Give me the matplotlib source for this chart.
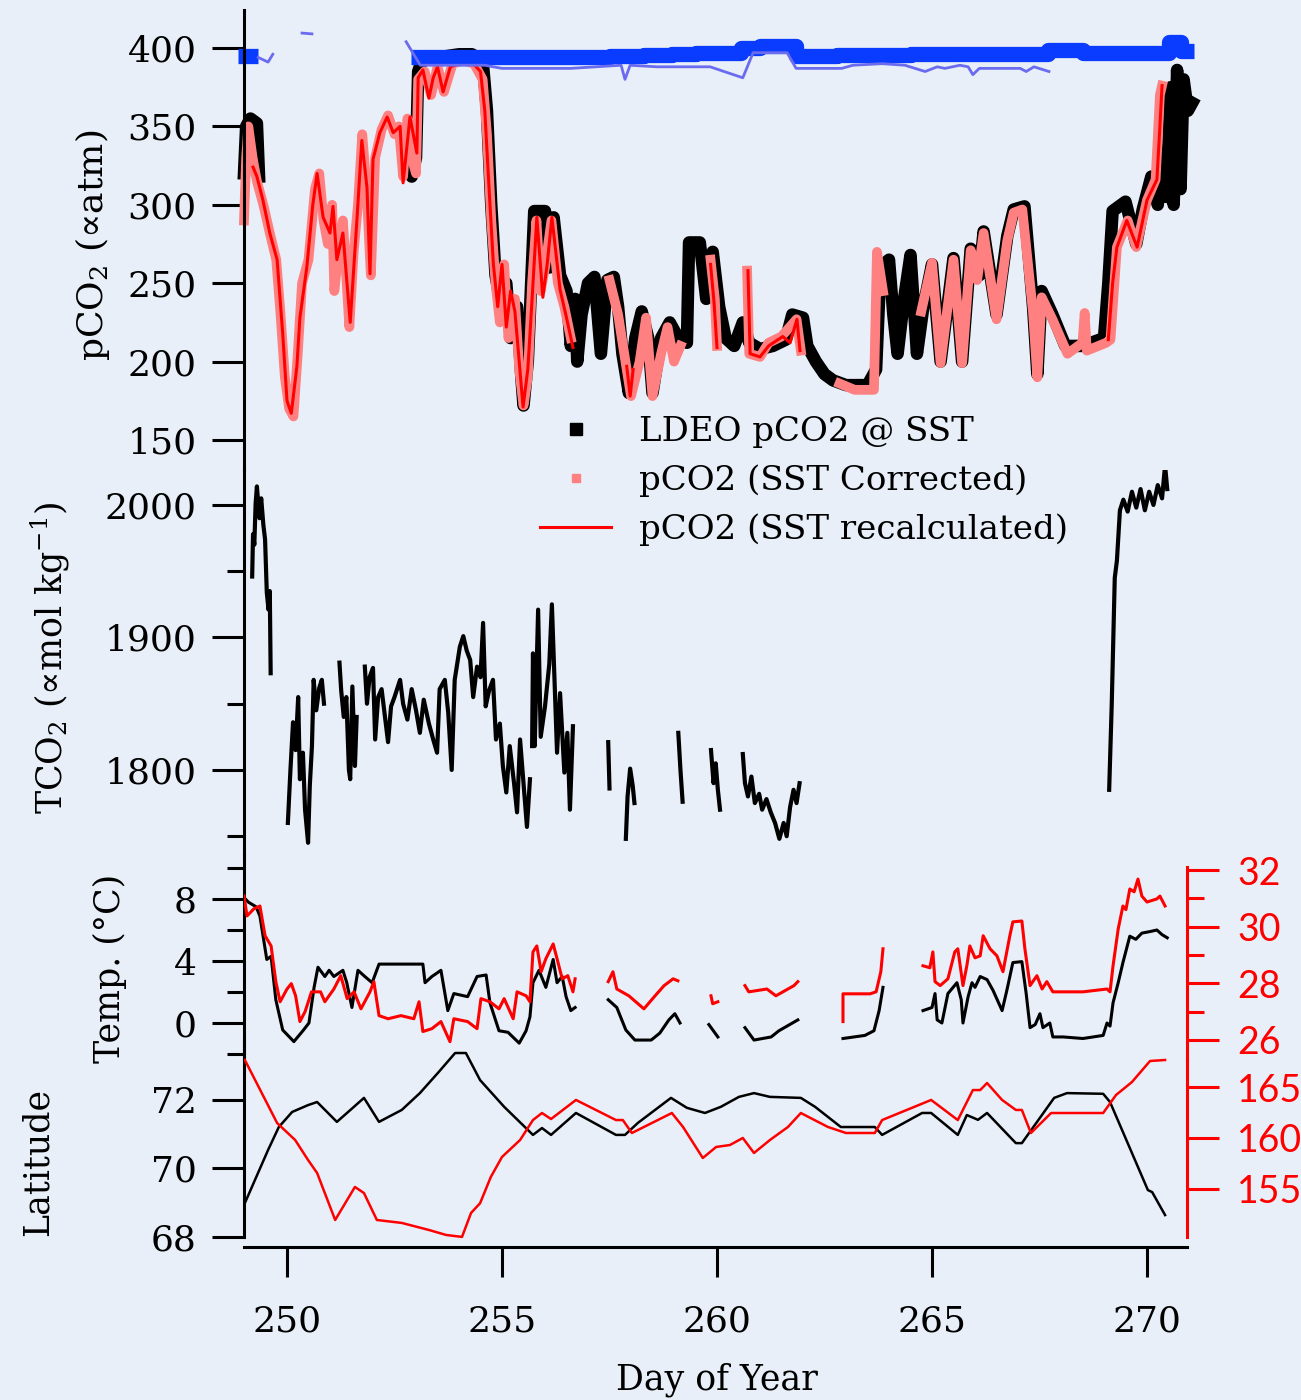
import numpy as np
import matplotlib.pyplot as plt
from matplotlib.lines import Line2D

nan = np.nan

# ---- pCO2 panel (day of year, uatm) ----
ldeo = [(249.0, 320), (249.05, 350), (249.15, 355), (249.3, 352), (249.35, 318), (nan, nan),
        (252.85, 340), (252.9, 318), (253.0, 330), (253.05, 385), (253.15, 393), (253.5, 394),
        (254.0, 396), (254.3, 396), (254.55, 392), (254.65, 360), (254.75, 300), (254.85, 255),
        (254.95, 240), (255.1, 250), (255.2, 215), (255.35, 235), (255.45, 190), (255.5, 172),
        (255.6, 200), (255.75, 296), (256.0, 296), (256.1, 260), (256.2, 292), (256.35, 255),
        (256.5, 245), (256.6, 210), (256.7, 240), (256.75, 200), (256.85, 230), (257.0, 250),
        (257.15, 254), (257.3, 205), (257.45, 252), (257.6, 254), (257.7, 235), (257.8, 205),
        (257.95, 180), (258.1, 215), (258.25, 232), (258.4, 215), (258.5, 180), (258.7, 215),
        (258.9, 225), (259.1, 215), (259.3, 212), (259.35, 276), (259.6, 276), (259.75, 240),
        (259.9, 270), (260.05, 235), (260.2, 215), (260.4, 210), (260.6, 225), (260.75, 212),
        (261.0, 208), (261.3, 210), (261.6, 214), (261.75, 230), (262.0, 228), (262.1, 210),
        (262.3, 200), (262.5, 192), (262.7, 188), (263.0, 185), (263.5, 185), (263.7, 195),
        (263.8, 260), (264.0, 265), (264.1, 230), (264.2, 205), (264.35, 240), (264.5, 268),
        (264.65, 205), (264.8, 235), (265.0, 262), (265.2, 200), (265.5, 266), (265.7, 200),
        (265.9, 272), (266.1, 255), (266.2, 283), (266.5, 230), (266.75, 280), (266.9, 297),
        (267.15, 299), (267.35, 235), (267.45, 192), (267.55, 245), (267.8, 230), (268.1, 210),
        (268.5, 210), (269.0, 215), (269.1, 250), (269.2, 296), (269.5, 302), (269.75, 275),
        (269.9, 297), (270.1, 318), (270.25, 300), (270.35, 330), (270.45, 305), (270.55, 375),
        (270.62, 300), (270.7, 386), (270.78, 310), (270.85, 380), (270.95, 360), (271.05, 365)]

corrected = [(249.0, 290), (249.05, 330), (249.1, 350), (249.2, 330), (249.3, 315), (249.45, 300),
             (249.6, 282), (249.75, 265), (249.85, 230), (249.95, 190), (250.05, 170), (250.15, 165),
             (250.25, 205), (250.35, 250), (250.5, 265), (250.65, 310), (250.75, 320), (250.85, 290),
             (250.95, 275), (251.05, 300), (251.1, 245), (251.2, 270), (251.3, 290), (251.45, 222),
             (251.55, 270), (251.65, 300), (251.75, 345), (251.85, 310), (251.95, 255), (252.05, 330),
             (252.2, 348), (252.35, 357), (252.5, 345), (252.6, 350), (252.7, 318), (252.8, 355),
             (252.95, 325), (253.0, 320), (253.05, 380), (253.2, 385), (253.35, 370), (253.5, 388),
             (253.65, 372), (253.85, 390), (254.1, 392), (254.35, 390), (254.55, 380), (254.65, 345),
             (254.75, 290), (254.85, 250), (254.95, 225), (255.05, 262), (255.15, 215), (255.3, 240),
             (255.4, 195), (255.5, 172), (255.6, 190), (255.7, 250), (255.8, 290), (255.9, 245),
             (256.0, 260), (256.15, 290), (256.3, 250), (256.45, 235), (256.6, 215), (nan, nan),
             (257.5, 252), (257.7, 230), (257.9, 195), (258.0, 178), (258.2, 200), (258.35, 228),
             (258.5, 178), (258.7, 205), (258.85, 222), (259.0, 200), (259.15, 210), (nan, nan),
             (259.85, 265), (259.95, 240), (260.0, 210), (nan, nan),
             (260.7, 258), (260.75, 205), (261.0, 203), (261.2, 212), (261.5, 216), (261.85, 227),
             (261.95, 207), (nan, nan),
             (262.85, 186), (263.2, 182), (263.65, 182), (263.72, 270), (263.86, 245), (nan, nan),
             (264.75, 232), (265.0, 263), (265.2, 199), (265.5, 265), (265.7, 199), (265.9, 271),
             (266.05, 252), (266.2, 282), (266.5, 227), (266.75, 277), (266.9, 295), (267.1, 297),
             (267.35, 231), (267.45, 190), (267.55, 241), (267.8, 227), (268.15, 205), (268.5, 212),
             (268.55, 231), (268.6, 207), (269.05, 212), (269.15, 214), (269.3, 273), (269.55, 290),
             (269.75, 273), (270.0, 303), (270.2, 316), (270.3, 370), (270.35, 376)]

recalculated = [(249.21, 324), (249.3, 318), (249.44, 303), (249.6, 282), (249.77, 265), (249.9, 218),
                (250.0, 175), (250.1, 167), (250.23, 197), (250.3, 228), (250.46, 260), (250.6, 300),
                (250.7, 320), (250.84, 292), (251.0, 282), (251.07, 299), (251.16, 265), (251.3, 282),
                (251.47, 225), (251.63, 292), (251.74, 341), (251.86, 311), (251.93, 256), (252.0, 329),
                (252.16, 346), (252.33, 356), (252.47, 346), (252.63, 350), (252.7, 314), (252.86, 356),
                (253.02, 333), (253.05, 381), (253.16, 386), (253.3, 368), (253.4, 381), (253.5, 388),
                (253.63, 372), (253.8, 388), (254.0, 390), (254.3, 391), (254.5, 385), (254.6, 360),
                (254.7, 310), (254.8, 262), (254.9, 235), (255.0, 262), (255.1, 222), (255.2, 245),
                (255.3, 232), (255.4, 200), (255.49, 171), (255.6, 195), (255.7, 240), (255.81, 292),
                (255.95, 241), (256.05, 262), (256.16, 292), (256.35, 246), (256.5, 228), (256.65, 209),
                (nan, nan), (257.9, 197), (257.98, 178), (258.05, 195), (nan, nan),
                (259.85, 262), (259.93, 238), (260.0, 209), (nan, nan),
                (260.72, 258), (260.77, 205), (261.0, 203), (261.2, 210), (261.53, 216), (261.7, 212),
                (261.86, 227), (261.93, 207), (nan, nan),
                (269.1, 214), (269.2, 250), (269.3, 273), (269.53, 290), (269.77, 273), (270.0, 303),
                (270.23, 316), (270.3, 350), (270.35, 376)]

atm = [(248.86, 395), (249.33, 395), (nan, nan),
       (252.88, 394), (254.6, 394), (256.4, 394.5), (257.5, 395), (258.3, 395.5), (258.95, 396),
       (259.5, 396.5), (260.56, 400), (261.0, 401), (261.84, 395), (262.8, 395.5), (264.5, 396),
       (266.5, 396), (267.7, 398.5), (268.5, 396.5), (269.5, 397), (270.5, 404), (270.8, 398),
       (271.1, 398)]

atm_thin = [(249.33, 394), (249.56, 391), (249.67, 396), (nan, nan), (250.35, 409.5), (250.58, 409),
            (nan, nan), (252.77, 404), (253.1, 389), (254.6, 389), (255.0, 387), (256.6, 387),
            (257.77, 389), (257.86, 380), (257.98, 389), (258.6, 388), (259.84, 388), (260.6, 381),
            (260.84, 397), (261.16, 397), (261.63, 397), (261.84, 387), (262.9, 387), (263.16, 389),
            (263.84, 390), (264.37, 389), (264.84, 385), (265.12, 388), (265.3, 387), (265.65, 389),
            (265.84, 388), (265.95, 383), (266.1, 387), (267.05, 387), (267.19, 385), (267.37, 388),
            (267.72, 385)]

# ---- TCO2 panel ----
tco2 = [(249.19, 1946), (249.21, 1978), (249.24, 1970), (249.27, 2001), (249.3, 2014), (249.33, 2002),
        (249.36, 1990), (249.4, 2005), (249.45, 1985), (249.49, 1974), (249.53, 1934), (249.57, 1921),
        (249.6, 1935), (249.62, 1873), (nan, nan),
        (250.02, 1760), (250.08, 1800), (250.14, 1836), (250.2, 1815), (250.26, 1855), (250.3, 1793),
        (250.37, 1813), (250.42, 1770), (250.49, 1745), (250.53, 1788), (250.58, 1818), (250.62, 1868),
        (250.68, 1845), (250.75, 1862), (250.81, 1868), (250.86, 1850), (nan, nan),
        (251.22, 1881), (251.26, 1860), (251.32, 1840), (251.38, 1855), (251.44, 1800), (251.47, 1793),
        (251.52, 1863), (251.58, 1803), (251.62, 1840), (nan, nan),
        (251.81, 1878), (251.86, 1850), (251.92, 1870), (252.0, 1877), (252.05, 1823), (252.12, 1855),
        (252.2, 1861), (252.28, 1840), (252.35, 1821), (252.42, 1848), (252.5, 1855), (252.57, 1862),
        (252.63, 1868), (252.7, 1850), (252.8, 1838), (252.9, 1861), (253.0, 1845), (253.09, 1828),
        (253.18, 1853), (253.3, 1835), (253.4, 1823), (253.49, 1813), (253.55, 1861), (253.67, 1868),
        (253.75, 1843), (253.83, 1800), (253.9, 1868), (254.02, 1893), (254.1, 1901), (254.18, 1890),
        (254.26, 1883), (254.33, 1855), (254.42, 1878), (254.5, 1870), (254.56, 1911), (254.62, 1848),
        (254.7, 1860), (254.79, 1868), (254.86, 1823), (254.95, 1835), (255.02, 1803), (255.1, 1783),
        (255.18, 1818), (255.28, 1790), (255.35, 1768), (255.42, 1823), (255.5, 1790), (255.58, 1757),
        (255.65, 1793), (nan, nan),
        (255.7, 1818), (255.72, 1888), (255.76, 1818), (255.84, 1921), (255.9, 1825), (256.0, 1848),
        (256.1, 1880), (256.16, 1925), (256.22, 1868), (256.28, 1813), (256.35, 1858), (256.45, 1798),
        (256.52, 1828), (256.58, 1770), (256.65, 1833), (nan, nan),
        (257.47, 1821), (257.5, 1786), (nan, nan),
        (257.88, 1748), (257.92, 1780), (257.98, 1801), (258.04, 1788), (258.08, 1775), (nan, nan),
        (259.1, 1828), (259.15, 1800), (259.2, 1776), (nan, nan),
        (259.86, 1815), (259.92, 1790), (259.97, 1805), (260.02, 1785), (260.07, 1770), (nan, nan),
        (260.6, 1812), (260.65, 1790), (260.72, 1780), (260.8, 1795), (260.88, 1775), (260.98, 1782),
        (261.05, 1770), (261.15, 1778), (261.25, 1768), (261.35, 1760), (261.45, 1748), (261.55, 1760),
        (261.62, 1750), (261.7, 1772), (261.78, 1785), (261.85, 1775), (261.92, 1790), (nan, nan),
        (269.12, 1785), (269.18, 1850), (269.25, 1945), (269.3, 1958), (269.37, 1996), (269.45, 2004),
        (269.55, 1995), (269.65, 2010), (269.75, 1998), (269.85, 2012), (269.95, 1996), (270.05, 2010),
        (270.15, 2000), (270.25, 2015), (270.35, 2005), (270.42, 2030), (270.47, 2012)]

# ---- temperature (left, degC) and red series (right axis) ----
temp = [(249.0, 8.1), (249.1, 7.8), (249.28, 7.5), (249.37, 6.9), (249.53, 4.1), (249.63, 4.3),
        (249.74, 1.5), (249.9, -0.45), (250.16, -1.2), (250.37, -0.5), (250.51, 0.0), (250.63, 2.3),
        (250.72, 3.6), (250.88, 3.0), (250.98, 3.4), (251.09, 3.0), (251.3, 3.4), (251.39, 2.6),
        (251.51, 1.0), (251.65, 3.4), (251.81, 3.0), (251.98, 2.6), (252.14, 3.8), (252.65, 3.8),
        (253.16, 3.8), (253.21, 2.6), (253.37, 3.0), (253.58, 3.4), (253.74, 0.8), (253.88, 1.9),
        (254.2, 1.7), (254.42, 3.0), (254.63, 3.1), (254.72, 1.3), (254.93, -0.5), (255.14, -0.6),
        (255.4, -1.3), (255.56, -0.5), (255.65, 0.4), (255.72, 2.6), (255.86, 3.4), (256.02, 2.3),
        (256.19, 4.1), (256.28, 2.6), (256.4, 3.0), (256.49, 1.7), (256.6, 0.8), (256.7, 1.0), (nan, nan),
        (257.47, 1.5), (257.67, 1.0), (257.88, -0.45), (258.09, -1.1), (258.47, -1.1), (258.67, -0.65),
        (258.88, 0.2), (259.02, 0.6), (259.14, 0.0), (nan, nan),
        (259.81, -0.1), (260.02, -0.9), (nan, nan),
        (260.65, -0.3), (260.86, -1.1), (261.26, -0.9), (261.44, -0.5), (261.88, 0.2), (nan, nan),
        (262.93, -1.0), (263.44, -0.8), (263.65, -0.5), (263.77, 0.8), (263.86, 2.3), (nan, nan),
        (264.79, 0.8), (265.0, 1.0), (265.07, 1.9), (265.12, 0.2), (265.23, 0.0), (265.37, 1.9),
        (265.58, 2.6), (265.68, 1.5), (265.72, 0.0), (265.84, 1.7), (265.93, 2.6), (266.0, 2.3),
        (266.12, 3.0), (266.28, 2.8), (266.42, 2.1), (266.63, 0.8), (266.74, 2.1), (266.88, 3.9),
        (267.09, 3.96), (267.19, 1.9), (267.28, -0.3), (267.4, -0.1), (267.51, 0.6), (267.58, -0.3),
        (267.74, 0.0), (267.81, -0.9), (268.05, -0.9), (268.51, -1.0), (268.98, -0.8), (269.07, 0.0),
        (269.14, -0.2), (269.21, 1.3), (269.33, 2.6), (269.44, 3.9), (269.6, 5.6), (269.74, 5.4),
        (269.88, 5.8), (270.07, 5.9), (270.23, 6.0), (270.35, 5.7), (270.47, 5.5)]

salin = [(249.0, 31.08), (249.07, 30.38), (249.23, 30.63), (249.37, 30.73), (249.49, 29.68),
         (249.63, 29.32), (249.74, 28.06), (249.84, 27.35), (250.0, 27.8), (250.1, 27.99), (250.2, 27.56),
         (250.3, 26.65), (250.42, 27.0), (250.57, 27.7), (250.78, 27.7), (250.88, 27.35), (251.09, 27.8),
         (251.25, 28.27), (251.4, 27.46), (251.56, 27.7), (251.72, 27.1), (251.93, 27.7), (252.02, 28.06),
         (252.14, 26.86), (252.35, 26.75), (252.65, 26.86), (252.95, 26.75), (253.07, 27.35), (253.16, 26.3),
         (253.37, 26.4), (253.58, 26.65), (253.79, 25.94), (253.88, 26.75), (254.2, 26.65), (254.42, 26.4),
         (254.51, 27.46), (254.72, 27.35), (254.93, 27.1), (255.05, 27.46), (255.26, 26.75), (255.35, 27.7),
         (255.56, 27.56), (255.65, 27.35), (255.72, 29.11), (255.81, 29.32), (255.91, 28.41), (256.02, 28.87),
         (256.19, 29.39), (256.28, 28.87), (256.4, 28.16), (256.53, 28.27), (256.65, 27.7), (256.7, 28.16),
         (nan, nan),
         (257.47, 28.06), (257.58, 28.41), (257.67, 27.8), (257.95, 27.56), (258.3, 27.1), (258.56, 27.56),
         (258.77, 27.92), (258.98, 28.16), (259.09, 28.09), (nan, nan),
         (259.86, 27.56), (259.9, 27.28), (260.02, 27.35), (nan, nan),
         (260.65, 27.92), (260.74, 27.7), (261.16, 27.8), (261.37, 27.56), (261.79, 27.92), (261.88, 28.06),
         (nan, nan),
         (262.93, 26.65), (262.93, 27.63), (263.56, 27.63), (263.7, 27.7), (263.81, 28.41), (263.86, 29.22),
         (nan, nan),
         (264.79, 28.62), (264.95, 28.55), (265.02, 29.11), (265.07, 28.06), (265.19, 27.92), (265.37, 28.16),
         (265.53, 29.11), (265.6, 29.22), (265.72, 27.92), (265.81, 28.62), (265.88, 29.32), (266.0, 28.9),
         (266.12, 28.97), (266.19, 29.68), (266.35, 29.22), (266.51, 28.97), (266.65, 28.41), (266.81, 29.68),
         (266.88, 30.17), (267.09, 30.2), (267.16, 29.22), (267.28, 27.92), (267.44, 28.27), (267.56, 27.8),
         (267.67, 28.06), (267.81, 27.7), (268.05, 27.7), (268.51, 27.7), (269.07, 27.8), (269.14, 27.7),
         (269.21, 28.62), (269.33, 29.92), (269.44, 30.73), (269.51, 30.6), (269.6, 31.33), (269.7, 31.23),
         (269.79, 31.68), (269.88, 31.08), (270.0, 30.87), (270.23, 30.98), (270.3, 31.08), (270.42, 30.73)]

# ---- position panel ----
lat = [(249.02, 68.99), (249.56, 70.54), (249.81, 71.21), (250.12, 71.65), (250.49, 71.85), (250.7, 71.94),
       (251.16, 71.36), (251.53, 71.77), (251.79, 72.06), (252.14, 71.36), (252.67, 71.71), (253.09, 72.2),
       (253.51, 72.79), (253.91, 73.37), (254.16, 73.37), (254.49, 72.58), (255.05, 71.8), (255.72, 70.98),
       (255.93, 71.18), (256.14, 70.98), (256.72, 71.62), (257.65, 70.98), (257.86, 70.98), (258.16, 71.33),
       (258.93, 72.06), (259.3, 71.77), (259.72, 71.62), (260.09, 71.8), (260.51, 72.09), (260.86, 72.2),
       (261.23, 72.09), (261.95, 72.06), (262.28, 71.8), (262.88, 71.21), (263.67, 71.21), (263.84, 70.98),
       (264.77, 71.62), (264.98, 71.62), (265.6, 70.98), (265.81, 71.56), (266.07, 71.42), (266.28, 71.62),
       (266.95, 70.74), (267.09, 70.74), (267.84, 72.06), (268.14, 72.2), (268.98, 72.18), (269.14, 71.94),
       (270.02, 69.37), (270.12, 69.31), (270.42, 68.64)]

lon = [(249.02, 167.65), (249.77, 161.47), (250.19, 159.8), (250.49, 157.84), (250.7, 156.57),
       (251.12, 151.96), (251.58, 155.2), (251.79, 154.6), (252.09, 151.96), (252.67, 151.67),
       (253.3, 150.98), (253.7, 150.49), (254.07, 150.3), (254.28, 152.65), (254.49, 153.6),
       (254.74, 156.18), (255.0, 158.14), (255.42, 159.8), (255.72, 161.76), (255.93, 162.45),
       (256.14, 161.86), (256.72, 163.73), (257.65, 161.76), (257.81, 161.76), (258.02, 160.49),
       (258.95, 162.45), (259.21, 161.08), (259.67, 158.04), (259.98, 159.12), (260.3, 159.31),
       (260.6, 160.0), (260.86, 158.53), (261.23, 159.8), (261.65, 161.08), (261.95, 162.45),
       (262.58, 161.08), (263.0, 160.49), (263.67, 160.49), (263.84, 161.76), (264.98, 163.73),
       (265.6, 161.76), (265.95, 164.7), (266.12, 164.7), (266.28, 165.39), (266.63, 163.73),
       (266.95, 162.75), (267.09, 162.75), (267.3, 160.49), (267.77, 162.45), (268.3, 162.45),
       (268.98, 162.45), (269.28, 164.22), (269.65, 165.49), (270.07, 167.55), (270.42, 167.65)]

day_ticks = [250, 255, 260, 265, 270]


def xy(pairs):
    a = np.array(pairs, dtype=float)
    return a[:, 0], a[:, 1]


plt.rcParams['font.family'] = ['DejaVu Serif', 'DejaVu Sans']
plt.rcParams['mathtext.fontset'] = 'dejavuserif'

W, H = 1301, 1400
BG = '#e8eff8'
fig = plt.figure(figsize=(W / 100, H / 100), dpi=100, facecolor=BG)


def panel(top, bottom):
    ax = fig.add_axes([244 / W, 1 - bottom / H, (1187 - 244) / W, (bottom - top) / H])
    ax.set_facecolor('none')
    for s in ['top', 'right', 'bottom']:
        ax.spines[s].set_visible(False)
    ax.spines['left'].set_linewidth(2.2)
    ax.set_xlim(249, 270.93)
    ax.tick_params(axis='x', which='both', bottom=False, labelbottom=False)
    ax.tick_params(axis='y', which='major', direction='out', length=23, width=2.2,
                   labelsize=26, pad=11)
    ax.tick_params(axis='y', which='minor', direction='out', length=12, width=2.2)
    return ax


def right_axis(ax):
    axr = ax.twinx()
    axr.set_facecolor('none')
    for s in ['top', 'left', 'bottom']:
        axr.spines[s].set_visible(False)
    axr.spines['right'].set_color('red')
    axr.spines['right'].set_linewidth(2.2)
    axr.tick_params(axis='y', which='major', direction='out', length=23, width=2.2,
                    colors='red', labelsize=27, pad=13)
    axr.tick_params(axis='y', which='minor', direction='out', length=12, width=2.2, colors='red')
    return axr


# pCO2
ax1 = panel(10, 470)
d, v = xy(ldeo)
ax1.plot(d, v, color='black', lw=9, clip_on=False)
d, v = xy(corrected)
ax1.plot(d, v, color='#ff8080', lw=7, clip_on=False)
d, v = xy(recalculated)
ax1.plot(d, v, color='red', lw=2.2, clip_on=False)
d, v = xy(atm)
ax1.plot(d, v, color='#0a3cff', lw=11, drawstyle='steps-post', solid_capstyle='butt', clip_on=False)
d, v = xy(atm_thin)
ax1.plot(d, v, color='#6b6bf0', lw=2, clip_on=False)
ax1.set_ylim(130.87, 424.23)
ax1.set_yticks([150, 200, 250, 300, 350, 400])

# TCO2
ax2 = panel(470, 855)
d, v = xy(tco2)
ax2.plot(d, v, color='black', lw=3)
ax2.set_ylim(1735.8, 2026.4)
ax2.set_yticks([1800, 1900, 2000])
ax2.set_yticks([1750, 1850, 1950], minor=True)

# temperature / right red axis
ax3 = panel(855, 1060)
d, v = xy(temp)
ax3.plot(d, v, color='black', lw=2.2)
ax3.set_ylim(-2.387, 10.84)
ax3.set_yticks([0, 4, 8])
ax3.set_yticks([-2, 2, 6, 10], minor=True)
ax3r = right_axis(ax3)
d, v = xy(salin)
ax3r.plot(d, v, color='red', lw=2.2)
ax3r.set_ylim(25.294, 32.53)
ax3r.set_yticks([26, 28, 30, 32])
ax3r.set_yticks([27, 29, 31], minor=True)
ax3r.spines['right'].set_bounds(25.294, 32.1)
ax3r.set_xlim(249, 270.93)

# latitude / longitude
ax4 = panel(1040, 1247)
d, v = xy(lat)
ax4.plot(d, v, color='black', lw=1.8)
ax4.set_ylim(67.708, 73.75)
ax4.set_yticks([68, 70, 72])
ax4.spines['left'].set_bounds(68, 73.75)
ax4.spines['bottom'].set_visible(True)
ax4.spines['bottom'].set_linewidth(2.2)
ax4.set_xticks(day_ticks)
ax4.tick_params(axis='x', which='major', bottom=True, labelbottom=True, direction='out',
                length=21.6, width=2.2, labelsize=26, pad=20)
ax4r = right_axis(ax4)
d, v = xy(lon)
ax4r.plot(d, v, color='red', lw=1.8)
ax4r.set_ylim(149.31, 169.61)
ax4r.set_yticks([155, 160, 165])
ax4r.spines['right'].set_bounds(150.29, 167.65)
ax4r.set_xlim(249, 270.93)
for t in ax3r.get_yticklabels() + ax4r.get_yticklabels():
    t.set_family('Lato')

# axis titles
lab = dict(rotation=90, ha='center', va='center', fontsize=25)
fig.text(92 / W, 1 - 245 / H, 'pCO$_2$ (∝atm)', rotation=90, ha='center', va='center', fontsize=26)
fig.text(50 / W, 1 - 658 / H, 'TCO$_2$ (∝mol kg$^{-1}$)', **lab)
fig.text(110 / W, 1 - 968 / H, 'Temp. (°C)', **lab)
fig.text(38 / W, 1 - 1162 / H, 'Latitude', **lab)
fig.text(717 / W, 1 - 1380 / H, 'Day of Year', ha='center', va='center', fontsize=25)

handles = [Line2D([], [], ls='none', marker='s', color='black', markersize=9),
           Line2D([], [], ls='none', marker='s', color='#ff8080', markersize=6),
           Line2D([], [], color='red', lw=2.2)]
labels = ['LDEO pCO2 @ SST', 'pCO2 (SST Corrected)', 'pCO2 (SST recalculated)']
fig.legend(handles, labels, loc='upper left', bbox_to_anchor=(540 / W, 1 - 416 / H),
           frameon=False, fontsize=24.5, handlelength=2.1, handletextpad=0.8,
           labelspacing=0.48, borderpad=0, borderaxespad=0)

fig.savefig('out.png', dpi=100, facecolor=BG)
